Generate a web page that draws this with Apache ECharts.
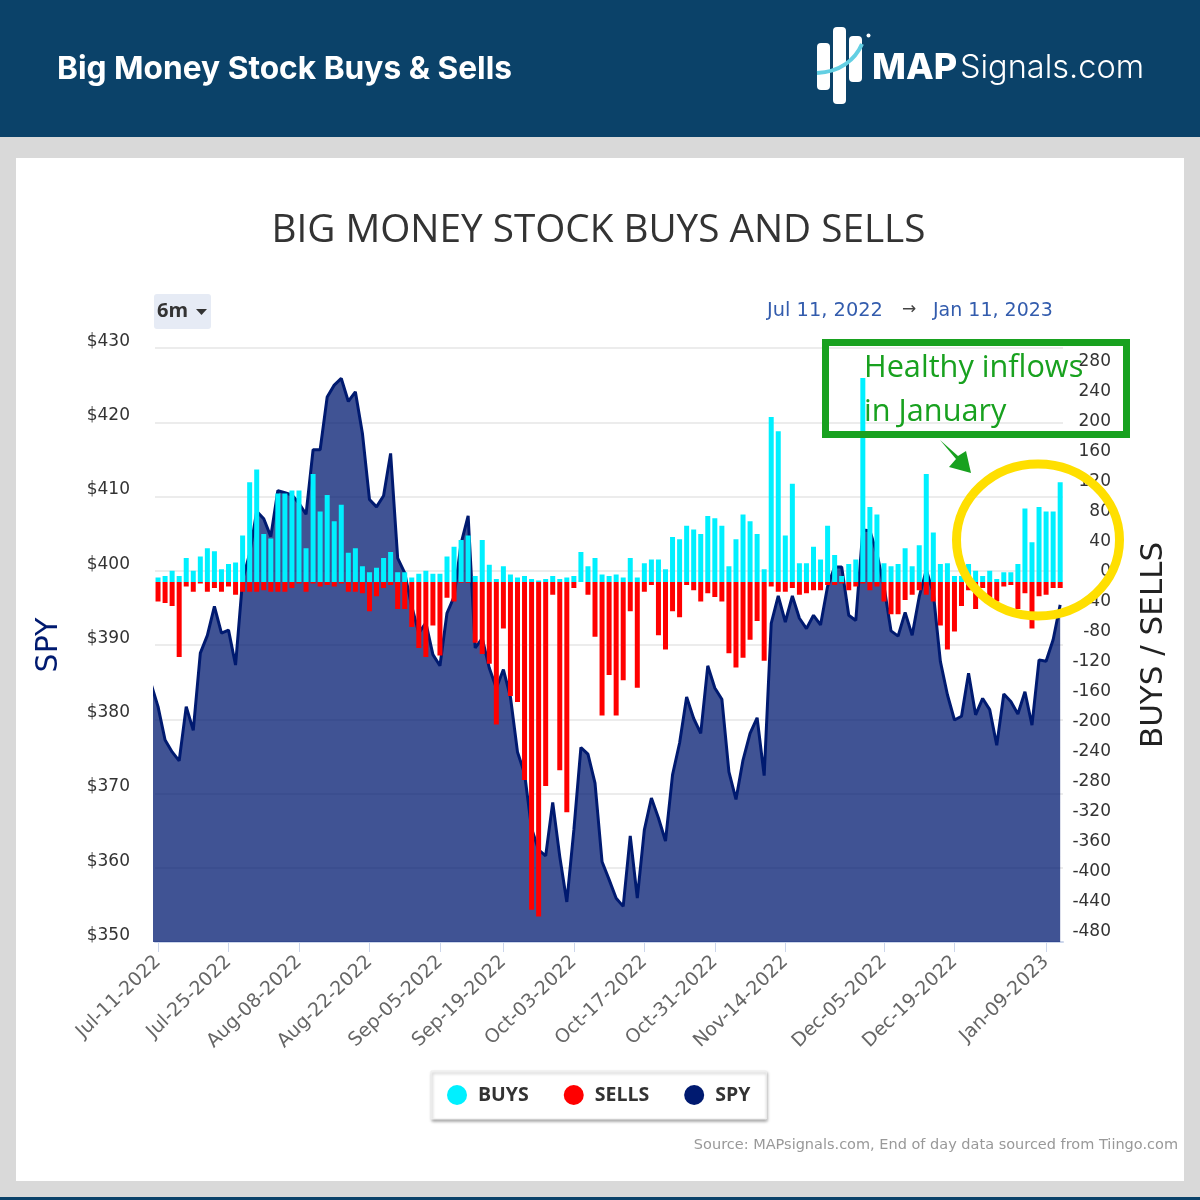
<!DOCTYPE html>
<html>
<head>
<meta charset="utf-8">
<title>Big Money Stock Buys & Sells</title>
<style>
html,body{margin:0;padding:0;background:#d9d9d9;}
#chart{width:1200px;height:1200px;}
</style>
<script src="https://cdn.jsdelivr.net/npm/echarts@6/dist/echarts.min.js"></script>
</head>
<body>
<div id="chart"></div>
<script>
// x axis ticks, index is the trading day
var tickIdx = [0,10,20,30,40,49,59,69,79,89,103,113,126];
var tickLabels = ['Jul-11-2022','Jul-25-2022','Aug-08-2022','Aug-22-2022','Sep-05-2022','Sep-19-2022','Oct-03-2022','Oct-17-2022','Oct-31-2022','Nov-14-2022','Dec-05-2022','Dec-19-2022','Jan-09-2023'];

var buys = [6,8,15,8,32,15,34,45,41,17,24,26,62,133,150,64,58,118,118,122,122,45,144,94,116,81,103,39,45,21,
13,19,32,40,13,13,6,11,15,11,11,34,47,56,62,8,56,23,4,21,10,6,8,4,2,4,8,4,6,8,
40,21,32,10,8,10,6,32,6,25,30,30,17,60,57,75,70,64,88,85,75,21,57,90,81,64,17,220,201,62,
131,25,25,47,30,75,36,8,24,30,272,100,90,25,21,24,45,21,49,144,66,24,25,8,8,24,15,8,15,4,
13,13,24,98,53,100,94,94,133];

var sells = [-26,-28,-32,-100,-6,-13,-2,-13,-8,-13,-6,-17,-13,-13,-13,-11,-13,-13,-13,-8,-2,-13,-2,-6,-4,-6,-2,-13,-13,-15,
-39,-19,-8,-4,-36,-36,-60,-88,-100,-58,-98,-21,-26,-1,-1,-81,-96,-109,-190,-62,-152,-160,-264,-437,-446,-272,-17,-251,-307,-8,
0,-17,-73,-178,-124,-178,-131,-39,-141,-13,-4,-71,-90,-39,-47,-4,-11,-26,-15,-20,-26,-95,-114,-101,-77,-52,-105,-6,-13,-13,
-8,-17,-15,-11,-11,-4,-4,-2,-11,-6,-2,-11,-6,-26,-43,-43,-24,-17,-11,-17,-26,-58,-90,-66,-32,-11,-36,-8,-21,-26,
-6,-4,-36,-15,-62,-19,-17,-8,-8];

// close of the day before the window, the line comes in clipped from it
var spyPrev = 384.8;
var spy = [381.7,377.2,375.6,374.4,381.7,378.5,388.9,391.3,395.2,391.6,392,387.3,398.8,402.3,408,407,404.6,410.8,410.5,410.2,
409.1,407.6,416.3,416.3,423.4,425,425.9,422.8,424.1,418.5,409.6,408.6,410.1,415.8,401.7,399.7,395.2,391.6,393,388.7,
387.2,394.3,396.5,403.7,407.4,389.6,390.9,386.9,384.2,386.7,383,375.6,372.7,365.3,362.4,361.6,368.8,361.5,355.4,365.1,
376.2,375.3,371.4,360.8,358.4,355.9,354.8,364.3,355.9,365.1,369.4,366.7,363.6,372.5,376.8,383,380.1,378.1,387.2,384.2,
382.7,372.9,369.2,374.5,378.1,380.2,372.4,392.9,396.6,393.1,396.6,393.6,392.2,394,392.7,397.9,400.5,400.5,394,393.3,
405.5,405.4,402.3,397.9,391.9,391.2,394.4,391.3,396.5,400.1,397,387.8,383.3,379.9,380.4,386.2,380.6,382.8,381.3,376.5,
383.4,382.4,380.7,383.7,379.2,388,387.8,390.7,395.4];

var NAVY = '#0b4269', GREEN = '#18a11f', TXT = 'DejaVu Sans';

function pairs(arr){
    return arr.map(function(v,i){ return [i,v]; });
}

var myChart = echarts.init(document.getElementById('chart'), null, {renderer:'canvas'});

var back = [
    {type:'rect', z:-5, shape:{x:0,y:0,width:1200,height:137}, style:{fill:NAVY}},
    {type:'rect', z:-5, shape:{x:0,y:1197,width:1200,height:3}, style:{fill:NAVY}},
    {type:'rect', z:-5, shape:{x:16,y:158,width:1168,height:1023}, style:{fill:'#fff'}},
    {type:'text', z:5, style:{text:'Big Money Stock Buys & Sells', x:57, y:69, fill:'#fff', font:'700 31.7px Inter', verticalAlign:'middle'}},
    // logo
    {type:'rect', z:5, shape:{x:817,y:43,width:13,height:47,r:4}, style:{fill:'#fff'}},
    {type:'rect', z:5, shape:{x:833,y:27,width:13,height:77,r:4}, style:{fill:'#fff'}},
    {type:'rect', z:5, shape:{x:849,y:36,width:13,height:46,r:4}, style:{fill:'#fff'}},
    {type:'bezierCurve', z:6, shape:{x1:817,y1:73,x2:862,y2:44,cpx1:840,cpy1:72,cpx2:855,cpy2:60}, style:{stroke:'#63cfe3',lineWidth:4,fill:null}},
    {type:'circle', z:5, shape:{cx:868.5,cy:35.5,r:2}, style:{fill:'#fff'}},
    {type:'text', z:5, style:{text:'MAP', x:872, y:68, fill:'#fff', font:'800 36px Inter', verticalAlign:'middle'}},
    {type:'text', z:5, style:{text:'Signals.com', x:960, y:68, fill:'#fff', font:'300 32.5px Inter', verticalAlign:'middle'}},
    // range selector and dates
    {type:'rect', z:5, shape:{x:154,y:294,width:57,height:35,r:3}, style:{fill:'#e6ebf5'}},
    {type:'text', z:6, style:{text:'6m', x:157, y:311, fill:'#333', font:'700 20px "Open Sans"', verticalAlign:'middle'}},
    {type:'polygon', z:6, shape:{points:[[196,309],[207,309],[201.5,315]]}, style:{fill:'#333'}},
    {type:'text', z:5, style:{text:'Jul 11, 2022', x:767, y:311, fill:'#335cad', font:'19.4px '+TXT, verticalAlign:'middle'}},
    {type:'text', z:5, style:{text:'\u2192', x:902, y:310, fill:'#444', font:'17px '+TXT, verticalAlign:'middle'}},
    {type:'text', z:5, style:{text:'Jan 11, 2023', x:933, y:311, fill:'#335cad', font:'19px '+TXT, verticalAlign:'middle'}},
    {type:'text', z:5, style:{text:'Source: MAPsignals.com, End of day data sourced from Tiingo.com', x:1178, y:1145, fill:'#999', font:'14.5px '+TXT, align:'right', verticalAlign:'middle'}}
];

// annotation on top of the plot
var notes = [
    {type:'rect', z:100, shape:{x:825.5,y:342.5,width:301,height:92}, style:{fill:null,stroke:GREEN,lineWidth:7}},
    {type:'text', z:101, style:{text:'Healthy inflows', x:864, y:368, fill:GREEN, font:'30.7px "Open Sans"', verticalAlign:'middle'}},
    {type:'text', z:101, style:{text:'in January', x:864, y:412, fill:GREEN, font:'30.7px "Open Sans"', verticalAlign:'middle'}},
    {type:'polygon', z:100, shape:{points:[[940,440],[958,456],[966,451],[971,473],[949,467],[956,459]]}, style:{fill:GREEN}},
    {type:'ellipse', z:100, shape:{cx:1038,cy:540,rx:81.5,ry:76}, style:{fill:null,stroke:'#ffdf00',lineWidth:9}}
];

var option = {
    animation:false,
    backgroundColor:'#d9d9d9',
    title:{
        text:'BIG MONEY STOCK BUYS AND SELLS',
        left:593.5, top:206, textAlign:'center',
        textStyle:{color:'#333',fontFamily:'Open Sans',fontSize:38.7,fontWeight:'normal'}
    },
    legend:{
        left:431, top:1071,
        padding:[14,16,14,16],
        itemGap:35, itemWidth:20, itemHeight:20,
        icon:'circle',
        data:['BUYS','SELLS','SPY'],
        backgroundColor:'#fff',
        borderColor:'#eee', borderWidth:1,
        shadowColor:'rgba(0,0,0,0.35)', shadowBlur:3, shadowOffsetX:1, shadowOffsetY:2,
        textStyle:{color:'#333',fontFamily:'Open Sans',fontSize:19.5,fontWeight:700,padding:[0,0,0,6]}
    },
    grid:{left:155,top:348,width:908,height:594},
    xAxis:{
        type:'value',
        min:-0.43, max:128.4,
        splitLine:{show:false},
        axisLine:{show:true,onZero:false,lineStyle:{color:'#ccd6eb',width:2}},
        axisTick:{show:true,length:10,customValues:tickIdx,lineStyle:{color:'#ccd6eb',width:1}},
        axisLabel:{
            customValues:tickIdx,
            rotate:44, margin:17,
            color:'#666', fontFamily:TXT, fontSize:19,
            hideOverlap:false,
            formatter:function(value){ return tickLabels[tickIdx.indexOf(value)]; }
        }
    },
    yAxis:[{
        type:'value',
        min:350, max:430, interval:10,
        name:'SPY', nameLocation:'middle', nameGap:91,
        nameTextStyle:{color:'#001a70',fontFamily:TXT,fontSize:30},
        axisLine:{show:false},
        axisTick:{show:false},
        splitLine:{lineStyle:{color:'#e6e6e6',width:1.5}},
        axisLabel:{
            margin:25, color:'#333', fontFamily:TXT, fontSize:17,
            verticalAlign:'bottom', lineHeight:13,
            formatter:function(value){ return '$'+value; }
        }
    },{
        type:'value',
        position:'right',
        min:-480, max:312, interval:40,
        name:'BUYS / SELLS', nameLocation:'middle', nameGap:75,
        nameTextStyle:{color:'#222',fontFamily:TXT,fontSize:31},
        axisLine:{show:false},
        axisTick:{show:false},
        splitLine:{show:false},
        axisLabel:{
            align:'right', margin:48, color:'#333', fontFamily:TXT, fontSize:17,
            showMaxLabel:false,
            verticalAlign:'bottom', lineHeight:20
        }
    }],
    series:[{
        name:'SPY', type:'line', yAxisIndex:0, z:2,
        data:[[-1,spyPrev]].concat(pairs(spy)),
        showSymbol:false,
        lineStyle:{color:'#001a70',width:3},
        itemStyle:{color:'#001a70'},
        areaStyle:{color:'#001a70',opacity:0.75,origin:'start'}
    },{
        name:'BUYS', type:'bar', yAxisIndex:1, z:3,
        data:pairs(buys), barWidth:5, barGap:'-100%', clip:false,
        itemStyle:{color:'#00f0ff'}
    },{
        name:'SELLS', type:'bar', yAxisIndex:1, z:3,
        data:pairs(sells), barWidth:5, barGap:'-100%', clip:false,
        itemStyle:{color:'#ff0000'}
    }],
    graphic:back.concat(notes)
};
myChart.setOption(option);
</script>
</body>
</html>
